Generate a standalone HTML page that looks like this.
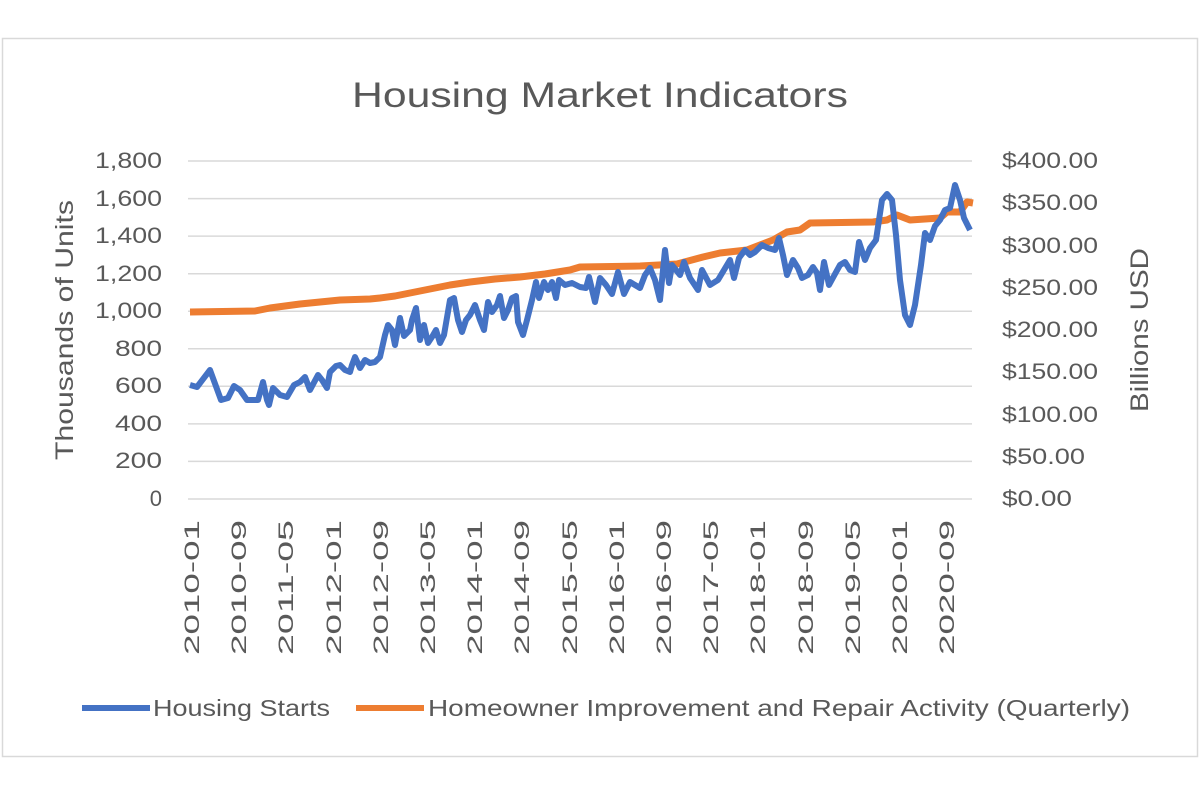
<!DOCTYPE html>
<html><head><meta charset="utf-8"><style>
html,body{margin:0;padding:0;background:#fff;}
svg{display:block;font-family:"Liberation Sans",sans-serif;}
</style></head><body>
<svg width="1200" height="793" viewBox="0 0 1200 793">
<rect x="2.5" y="38.5" width="1195" height="718" fill="#fff" stroke="#d9d9d9" stroke-width="1.5"/>
<text x="352" y="107" font-size="35" fill="#595959" textLength="496" lengthAdjust="spacingAndGlyphs">Housing Market Indicators</text>
<g stroke="#d9d9d9" stroke-width="1.5">
<line x1="188" x2="972" y1="161" y2="161"/><line x1="188" x2="972" y1="198.6" y2="198.6"/>
<line x1="188" x2="972" y1="236.1" y2="236.1"/><line x1="188" x2="972" y1="273.7" y2="273.7"/>
<line x1="188" x2="972" y1="311.2" y2="311.2"/><line x1="188" x2="972" y1="348.8" y2="348.8"/>
<line x1="188" x2="972" y1="386.3" y2="386.3"/><line x1="188" x2="972" y1="423.9" y2="423.9"/>
<line x1="188" x2="972" y1="461.4" y2="461.4"/><line x1="188" x2="972" y1="499" y2="499"/>
</g>
<g font-size="22" fill="#595959" text-anchor="end">
<text x="162" y="168" textLength="67" lengthAdjust="spacingAndGlyphs">1,800</text><text x="162" y="206" textLength="67" lengthAdjust="spacingAndGlyphs">1,600</text><text x="162" y="243" textLength="67" lengthAdjust="spacingAndGlyphs">1,400</text>
<text x="162" y="281" textLength="67" lengthAdjust="spacingAndGlyphs">1,200</text><text x="162" y="318" textLength="67" lengthAdjust="spacingAndGlyphs">1,000</text><text x="162" y="356" textLength="47" lengthAdjust="spacingAndGlyphs">800</text>
<text x="162" y="393" textLength="47" lengthAdjust="spacingAndGlyphs">600</text><text x="162" y="431" textLength="47" lengthAdjust="spacingAndGlyphs">400</text><text x="162" y="468" textLength="47" lengthAdjust="spacingAndGlyphs">200</text><text x="162" y="506">0</text>
</g>
<g font-size="22" fill="#595959">
<text x="1002" y="168" textLength="96" lengthAdjust="spacingAndGlyphs">$400.00</text><text x="1002" y="210" textLength="96" lengthAdjust="spacingAndGlyphs">$350.00</text><text x="1002" y="253" textLength="96" lengthAdjust="spacingAndGlyphs">$300.00</text>
<text x="1002" y="295" textLength="96" lengthAdjust="spacingAndGlyphs">$250.00</text><text x="1002" y="337" textLength="96" lengthAdjust="spacingAndGlyphs">$200.00</text><text x="1002" y="379" textLength="96" lengthAdjust="spacingAndGlyphs">$150.00</text>
<text x="1002" y="422" textLength="96" lengthAdjust="spacingAndGlyphs">$100.00</text><text x="1002" y="464" textLength="83" lengthAdjust="spacingAndGlyphs">$50.00</text><text x="1002" y="506" textLength="70" lengthAdjust="spacingAndGlyphs">$0.00</text>
</g>
<text transform="translate(73,330) rotate(-90)" text-anchor="middle" font-size="25" fill="#595959" textLength="260" lengthAdjust="spacingAndGlyphs">Thousands of Units</text>
<text transform="translate(1148,330) rotate(-90)" text-anchor="middle" font-size="25" fill="#595959" textLength="164" lengthAdjust="spacingAndGlyphs">Billions USD</text>
<g font-size="21" fill="#595959" text-anchor="end">
<text transform="translate(199,520) rotate(-90)" textLength="135" lengthAdjust="spacingAndGlyphs">2010-01</text>
<text transform="translate(246,520) rotate(-90)" textLength="135" lengthAdjust="spacingAndGlyphs">2010-09</text>
<text transform="translate(293,520) rotate(-90)" textLength="135" lengthAdjust="spacingAndGlyphs">2011-05</text>
<text transform="translate(341,520) rotate(-90)" textLength="135" lengthAdjust="spacingAndGlyphs">2012-01</text>
<text transform="translate(388,520) rotate(-90)" textLength="135" lengthAdjust="spacingAndGlyphs">2012-09</text>
<text transform="translate(435,520) rotate(-90)" textLength="135" lengthAdjust="spacingAndGlyphs">2013-05</text>
<text transform="translate(482,520) rotate(-90)" textLength="135" lengthAdjust="spacingAndGlyphs">2014-01</text>
<text transform="translate(529,520) rotate(-90)" textLength="135" lengthAdjust="spacingAndGlyphs">2014-09</text>
<text transform="translate(577,520) rotate(-90)" textLength="135" lengthAdjust="spacingAndGlyphs">2015-05</text>
<text transform="translate(624,520) rotate(-90)" textLength="135" lengthAdjust="spacingAndGlyphs">2016-01</text>
<text transform="translate(671,520) rotate(-90)" textLength="135" lengthAdjust="spacingAndGlyphs">2016-09</text>
<text transform="translate(718,520) rotate(-90)" textLength="135" lengthAdjust="spacingAndGlyphs">2017-05</text>
<text transform="translate(765,520) rotate(-90)" textLength="135" lengthAdjust="spacingAndGlyphs">2018-01</text>
<text transform="translate(813,520) rotate(-90)" textLength="135" lengthAdjust="spacingAndGlyphs">2018-09</text>
<text transform="translate(860,520) rotate(-90)" textLength="135" lengthAdjust="spacingAndGlyphs">2019-05</text>
<text transform="translate(907,520) rotate(-90)" textLength="135" lengthAdjust="spacingAndGlyphs">2020-01</text>
<text transform="translate(954,520) rotate(-90)" textLength="135" lengthAdjust="spacingAndGlyphs">2020-09</text>
</g>
<polyline fill="none" stroke="#ed7d31" stroke-width="7" stroke-linejoin="round" points="190,312 255,311 270,308 300,304 320,302 340,300 370,299 380,298 395,296 410,293 420,291 435,288 450,285 470,282 495,279 520,277 545,274 570,270 580,267 640,266 677,264 703,257 720,253 747,250 760,245 773,240 787,232 800,230 810,223 873,222 887,220 897,215 910,220 940,218 947,212 960,212 967,202 973,203"/>
<polyline fill="none" stroke="#4472c4" stroke-width="6" stroke-linejoin="round" points="190,385 197,387 210,370 221,400 228,398 234,386 240,390 247,400 258,400 263,382 267,400 269,405 273,388 280,395 287,397 294,385 300,382 305,377 310,390 318,375 322,380 327,388 330,372 336,366 340,365 345,370 350,372 352,365 355,357 360,368 365,360 370,363 375,362 380,357 385,335 388,325 392,330 395,345 400,318 404,336 410,330 412,320 416,308 420,340 424,325 428,343 432,337 436,330 440,343 444,335 450,300 454,298 458,320 462,332 466,320 470,315 475,305 480,320 484,330 488,302 492,312 497,305 500,296 504,318 508,310 512,298 516,296 518,322 523,335 527,320 532,300 536,282 539,298 544,282 548,290 552,282 556,298 559,280 565,285 572,283 580,287 586,288 589,277 595,302 600,278 606,285 612,294 618,272 624,294 630,282 635,285 640,288 645,275 650,268 655,280 660,300 665,250 669,283 672,265 676,270 680,275 684,262 690,278 698,290 702,270 710,285 718,280 724,270 730,260 734,278 739,258 745,250 750,255 755,252 762,245 768,248 775,250 779,238 783,255 787,275 793,260 798,268 802,278 808,275 813,267 817,273 820,290 824,262 829,285 835,274 840,265 845,262 850,270 855,272 859,242 865,260 870,248 876,240 882,200 887,194 892,200 896,235 900,280 905,315 910,325 915,305 921,265 925,233 930,240 935,226 940,220 945,210 950,208 955,185 960,200 964,218 970,230"/>
<line x1="82" y1="708" x2="150" y2="708" stroke="#4472c4" stroke-width="6"/>
<text x="153" y="716" font-size="23" fill="#595959" textLength="177" lengthAdjust="spacingAndGlyphs">Housing Starts</text>
<line x1="356" y1="708" x2="424" y2="708" stroke="#ed7d31" stroke-width="6"/>
<text x="428" y="716" font-size="23" fill="#595959" textLength="702" lengthAdjust="spacingAndGlyphs">Homeowner Improvement and Repair Activity (Quarterly)</text>
</svg>
</body></html>
